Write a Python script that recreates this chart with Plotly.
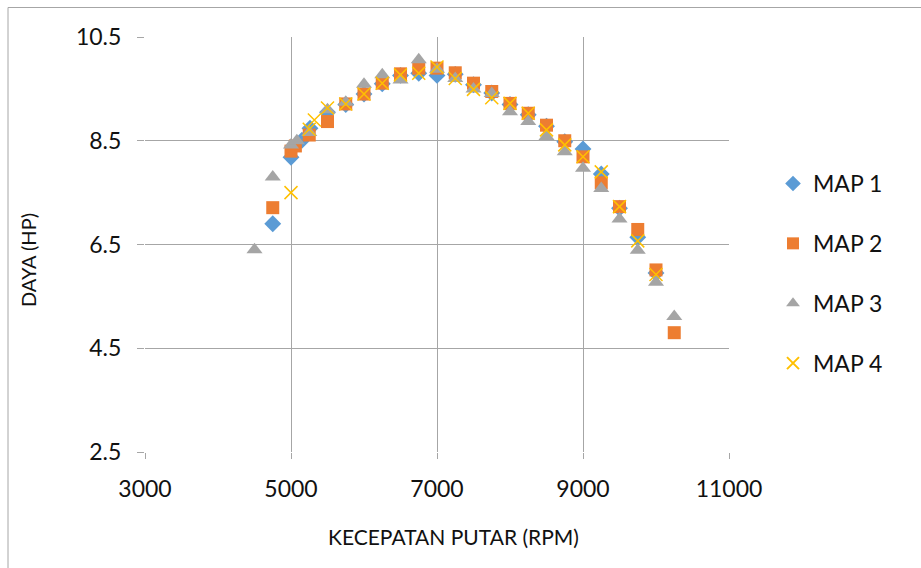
import plotly.graph_objects as go

# MAP 1
map1_rpm = [4750, 5000, 5150, 5260, 5500, 5750, 6000, 6250, 6500, 6750, 7000, 7250, 7500, 7750, 8000, 8250, 8500, 8750, 9000, 9250, 9500, 9750, 10000]
map1_hp = [6.9, 8.18, 8.51, 8.74, 9.05, 9.2, 9.4, 9.6, 9.76, 9.8, 9.76, 9.78, 9.58, 9.42, 9.2, 9.0, 8.78, 8.48, 8.34, 7.86, 7.2, 6.64, 5.95]
# MAP 2
map2_rpm = [4750, 5000, 5060, 5250, 5500, 5750, 6000, 6250, 6500, 6750, 7000, 7250, 7500, 7750, 8000, 8250, 8500, 8750, 9000, 9250, 9500, 9750, 10000, 10250]
map2_hp = [7.21, 8.3, 8.4, 8.61, 8.87, 9.21, 9.4, 9.61, 9.79, 9.9, 9.9, 9.81, 9.61, 9.45, 9.22, 9.03, 8.8, 8.5, 8.19, 7.69, 7.23, 6.79, 6.01, 4.8]
# MAP 3
map3_rpm = [4500, 4750, 5000, 5080, 5250, 5500, 5750, 6000, 6250, 6500, 6750, 7000, 7250, 7500, 7750, 8000, 8250, 8500, 8750, 9000, 9250, 9500, 9750, 10000, 10250]
map3_hp = [6.4, 7.8, 8.42, 8.5, 8.66, 9.1, 9.24, 9.59, 9.77, 9.67, 10.06, 9.88, 9.7, 9.5, 9.41, 9.06, 8.87, 8.58, 8.29, 7.97, 7.58, 6.99, 6.39, 5.77, 5.11]
# MAP 4
map4_rpm = [5000, 5250, 5320, 5500, 5750, 6000, 6250, 6500, 6750, 7000, 7250, 7500, 7750, 8000, 8250, 8500, 8750, 9000, 9250, 9500, 9750, 10000]
map4_hp = [7.5, 8.72, 8.9, 9.13, 9.21, 9.4, 9.61, 9.77, 9.8, 9.92, 9.7, 9.49, 9.33, 9.22, 9.03, 8.71, 8.42, 8.19, 7.9, 7.23, 6.57, 5.92]

x_ticks = [3000, 5000, 7000, 9000, 11000]
y_ticks = [2.5, 4.5, 6.5, 8.5, 10.5]
x_title = "KECEPATAN PUTAR (RPM)"
y_title = "DAYA (HP)"

FONT = "Lato"
TXT = "#111111"
fig = go.Figure()
fig.add_trace(go.Scatter(x=map1_rpm, y=map1_hp, mode="markers", name="MAP 1", legendgroup="1",
                         marker=dict(symbol="diamond", size=13, color="#5B9BD5")))
fig.add_trace(go.Scatter(x=map2_rpm, y=map2_hp, mode="markers", name="MAP 2", legendgroup="2",
                         marker=dict(symbol="square", size=13, color="#ED7D31")))
fig.add_trace(go.Scatter(x=map3_rpm, y=map3_hp, mode="markers", name="MAP 3", legendgroup="3",
                         marker=dict(symbol="triangle-up", size=14, color="#A5A5A5")))
fig.add_trace(go.Scatter(x=map4_rpm, y=map4_hp, mode="markers", name="MAP 4", legendgroup="4",
                         marker=dict(symbol="x-thin-open", size=13, color="#FFC000",
                                     line=dict(color="#FFC000", width=1.5))))

L, R, T, B = 145, 729, 37, 452
W, H = 921, 568
pw, ph = R - L, B - T

fig.update_layout(
    width=W, height=H,
    margin=dict(l=L, r=W - R, t=T, b=H - B),
    paper_bgcolor="white", plot_bgcolor="white",
    font=dict(family=FONT, color=TXT),
    showlegend=True,
    legend=dict(x=(773 - L) / pw, y=(B - 162) / ph, xanchor="left", yanchor="top",
                font=dict(size=23, family=FONT, color=TXT),
                tracegroupgap=27, itemsizing="constant", itemwidth=30, bgcolor="rgba(0,0,0,0)"),
    xaxis=dict(range=[3000, 11000], tickvals=x_ticks, ticktext=[str(v) for v in x_ticks],
               showgrid=True, gridcolor="#A6A6A6", gridwidth=1, zeroline=False,
               showline=False, ticks="outside", ticklen=6, tickcolor="#A6A6A6",
               ticklabelstandoff=10,
               tickfont=dict(size=23, family=FONT, color=TXT)),
    yaxis=dict(range=[2.5, 10.5], tickvals=y_ticks, ticktext=["2.5", "4.5", "6.5", "8.5", "10.5"],
               showgrid=True, gridcolor="#A6A6A6", gridwidth=1, zeroline=False,
               showline=False, ticks="outside", ticklen=7, tickcolor="#A6A6A6",
               ticklabelstandoff=11,
               tickfont=dict(size=23, family=FONT, color=TXT)),
)
# axis titles (centred over the whole chart area, as in the original)
fig.add_annotation(text=x_title, xref="paper", yref="paper", x=(453 - L) / pw, y=(B - 536) / ph,
                   showarrow=False, xanchor="center", yanchor="middle",
                   font=dict(size=21, family=FONT, color=TXT))
fig.add_annotation(text=y_title, xref="paper", yref="paper", x=(28 - L) / pw, y=(B - 260) / ph,
                   showarrow=False, xanchor="center", yanchor="middle", textangle=-90,
                   font=dict(size=20, family=FONT, color=TXT))
# outer chart border
fig.add_shape(type="rect", xref="paper", yref="paper",
              x0=(8 - L) / pw, x1=(930 - L) / pw, y0=(B - 580) / ph, y1=(B - 7.5) / ph,
              line=dict(color="#A6A6A6", width=1), fillcolor="rgba(0,0,0,0)", layer="below")
fig.write_html("out.html")
